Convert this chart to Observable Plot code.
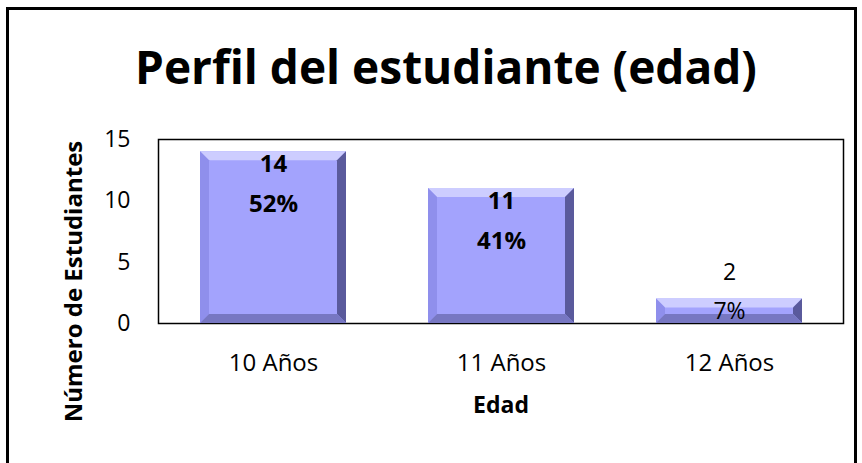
<!DOCTYPE html>
<html>
<head>
<meta charset="utf-8">
<script src="https://cdn.jsdelivr.net/npm/d3@7"></script>
<script src="https://cdn.jsdelivr.net/npm/@observablehq/plot@0.6"></script>
<style>
  body { margin: 0; background: #fff; }
  #wrap { position: relative; width: 862px; height: 463px; overflow: hidden; background: #fff; }
  #border { position: absolute; left: 6px; top: 7px; width: 845px; height: 470px; border: 3px solid #000; }
  #chart { position: absolute; left: 0; top: 0; }
</style>
</head>
<body>
<div id="wrap"><div id="border"></div><div id="chart"></div></div>
<script>
const categories = ["10 Años", "11 Años", "12 Años"];
const counts = [14, 11, 2];
const percents = ["52%", "41%", "7%"];
const yTicks = [0, 5, 10, 15];
const titleText = "Perfil del estudiante (edad)";
const xTitle = "Edad";
const yTitle = "Número de Estudiantes";

const data = categories.map((c, i) => ({edad: c, n: counts[i], pct: percents[i], big: counts[i] >= 5}));
const font = "'Open Sans', 'Noto Sans', sans-serif";
const NS = "http://www.w3.org/2000/svg";

// adds bevel facets on top of each rendered bar rect
function bevel(index, scales, values, dims, ctx, next) {
  const g = next(index, scales, values, dims, ctx);
  const rects = Array.from(g.querySelectorAll("rect"));
  for (const r of rects) {
    const x = +r.getAttribute("x"), y = +r.getAttribute("y");
    const w = +r.getAttribute("width"), h = +r.getAttribute("height");
    const b = Math.min(9, h / 2.5);
    const facets = [
      [[x, y], [x + w, y], [x + w - b, y + b], [x + b, y + b], "#cdcdff"],
      [[x, y], [x + b, y + b], [x + b, y + h - b], [x, y + h], "#8f8fec"],
      [[x + w, y], [x + w, y + h], [x + w - b, y + h - b], [x + w - b, y + b], "#5a5a9c"],
      [[x, y + h], [x + w, y + h], [x + w - b, y + h - b], [x + b, y + h - b], "#7777c2"]
    ];
    for (const f of facets) {
      const p = document.createElementNS(NS, "polygon");
      p.setAttribute("points", f.slice(0, 4).map(q => q.join(",")).join(" "));
      p.setAttribute("fill", f[4]);
      g.appendChild(p);
    }
  }
  return g;
}

const plot = Plot.plot({
  width: 862,
  height: 463,
  marginLeft: 158,
  marginRight: 19,
  marginTop: 139,
  marginBottom: 140,
  style: {fontFamily: font, fontSize: "22px", color: "#000", background: "transparent"},
  x: {domain: categories, paddingInner: 0.36, paddingOuter: 0.18, label: null},
  y: {domain: [0, 15], label: null},
  marks: [
    Plot.axisY({ticks: yTicks, tickSize: 0, tickPadding: 28, fontSize: 23, label: null}),
    Plot.axisX({tickSize: 0, tickPadding: 30, fontSize: 24, label: null}),
    Plot.frame({stroke: "#000", strokeWidth: 1.5}),
    Plot.barY(data, {x: "edad", y: "n", fill: "#a3a3fd", render: bevel}),
    // labels for tall bars (bold, inside)
    Plot.text(data.filter(d => d.big), {x: "edad", y: "n", text: d => String(d.n), dy: 13, fontWeight: "bold", fontSize: 24, fill: "#000"}),
    Plot.text(data.filter(d => d.big), {x: "edad", y: "n", text: "pct", dy: 53, fontWeight: "bold", fontSize: 24, fill: "#000"}),
    // labels for short bar
    Plot.text(data.filter(d => !d.big), {x: "edad", y: "n", text: d => String(d.n), dy: -26, fontSize: 23, fill: "#000"}),
    Plot.text(data.filter(d => !d.big), {x: "edad", y: "n", text: "pct", dy: 13, fontSize: 23, fill: "#000"}),
    // titles
    Plot.text([titleText], {frameAnchor: "top", dx: -55, dy: -88, fontSize: 46, fontWeight: "bold", fill: "#000"}),
    Plot.text([xTitle], {frameAnchor: "bottom", dy: 89, fontSize: 23, fontWeight: "bold", fill: "#000"}),
    Plot.text([yTitle], {frameAnchor: "left", textAnchor: "middle", dx: -84, dy: 50, rotate: -90, fontSize: 24, fontWeight: "bold", fill: "#000"})
  ]
});
document.getElementById("chart").appendChild(plot);
</script>
</body>
</html>
